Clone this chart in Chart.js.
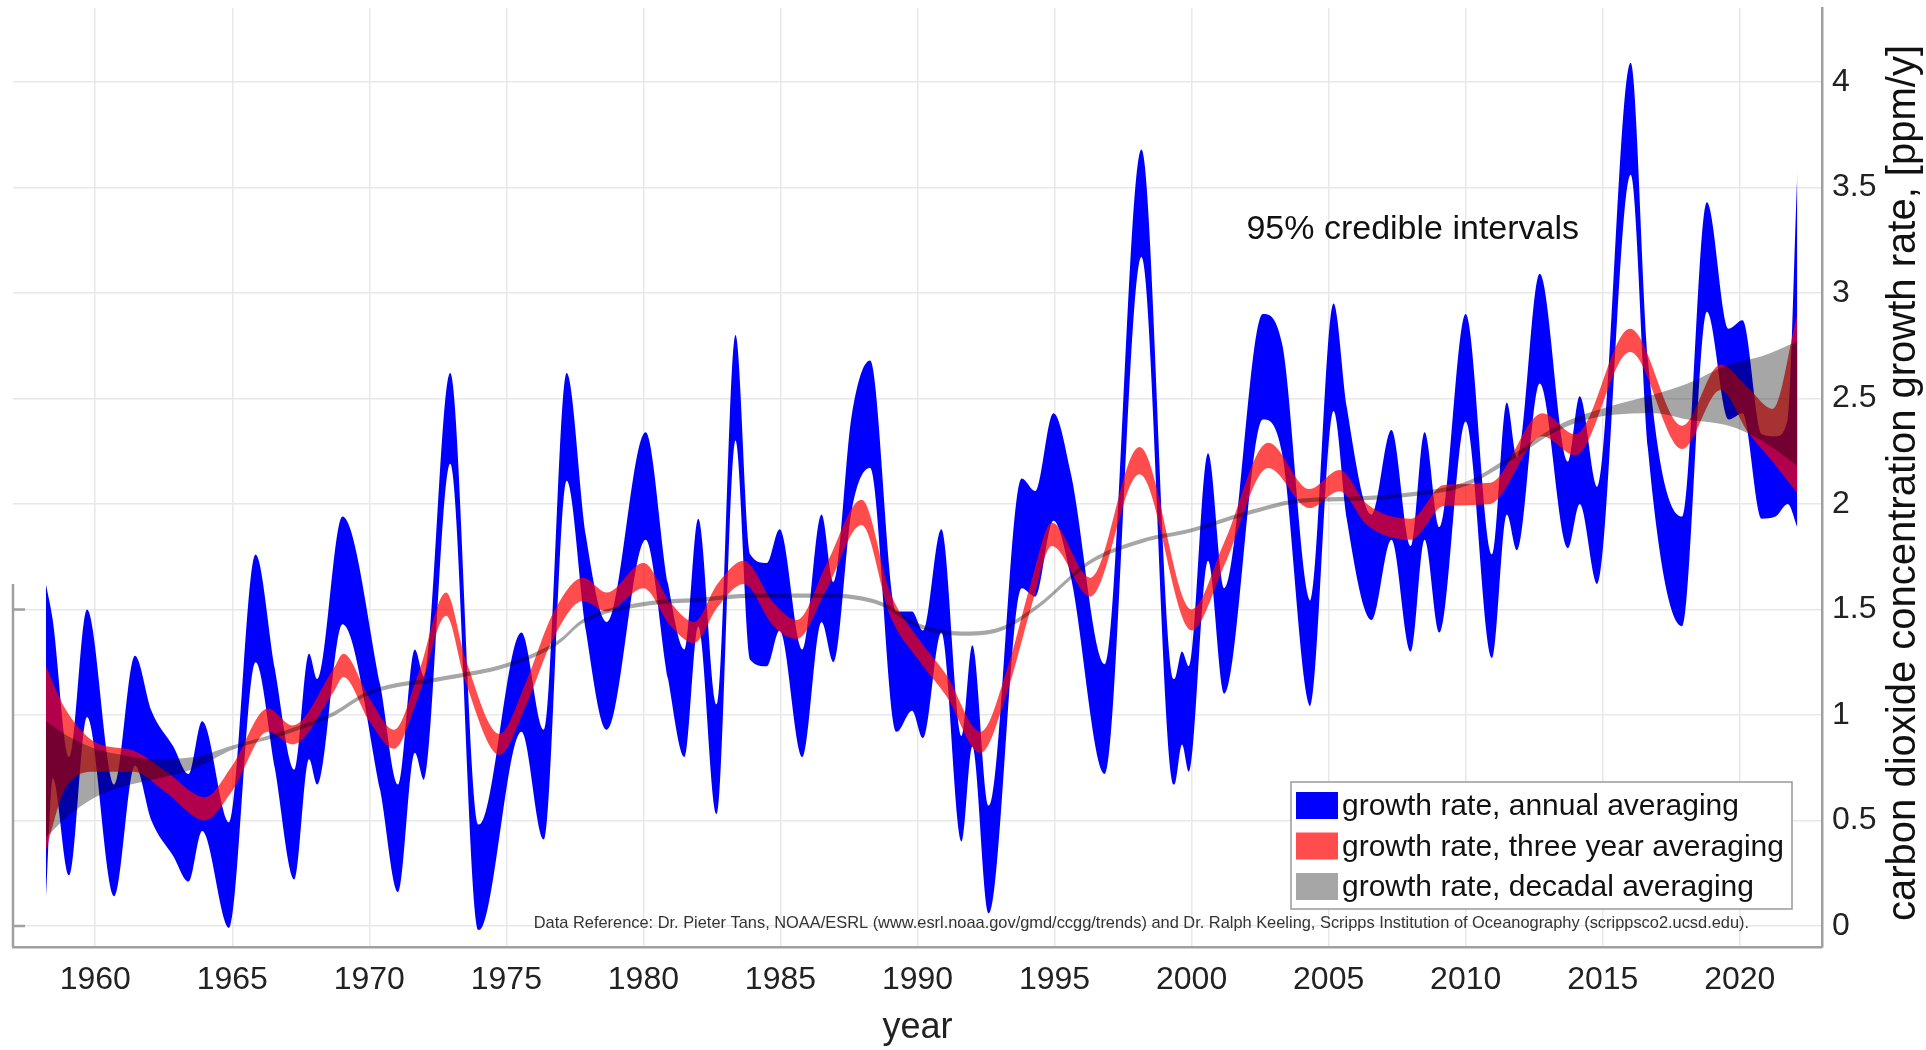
<!DOCTYPE html>
<html>
<head>
<meta charset="utf-8">
<title>CO2 growth rate</title>
<script src="https://cdn.jsdelivr.net/npm/chart.js"></script>
<style>
  html, body { margin: 0; padding: 0; background: #fff; }
  canvas { display: block; }
</style>
</head>
<body>
<canvas id="myChart" width="1926" height="1050"></canvas>
<script>
// annual averaging, 95% band (ppm/y)
const blueYears = [1958.2, 1958.45, 1959.05, 1959.7, 1960.7, 1961.45, 1962.05, 1962.85, 1963.4, 1963.9,
    1964.9, 1965.85, 1966.55, 1967.27, 1967.8, 1968.1, 1969.02, 1970.4, 1971.05, 1971.66,
    1972.0, 1972.95, 1974.0, 1975.55, 1976.37, 1977.2, 1977.9, 1978.66, 1980.08, 1980.9,
    1981.5, 1982.0, 1982.67, 1983.36, 1983.9, 1984.5, 1984.97, 1985.8, 1986.5, 1986.93,
    1987.6, 1988.27, 1989.24, 1989.8, 1990.2, 1990.87, 1991.6, 1992.0, 1992.6, 1993.8,
    1994.3, 1994.96, 1995.6, 1996.83, 1998.17, 1999.37, 1999.65, 1999.9, 2000.6, 2001.2,
    2002.6, 2003.3, 2004.34, 2005.18, 2005.66, 2006.57, 2007.29, 2008.0, 2008.5, 2009.04,
    2010.0, 2010.96, 2011.5, 2011.87, 2012.7, 2013.73, 2014.16, 2014.8, 2016.02, 2016.65,
    2017.9, 2018.8, 2019.6, 2020.1, 2020.8, 2021.3, 2021.75, 2022.1];
const blueHigh = [1.62, 1.45, 0.80, 1.50, 0.67, 1.28, 1.02, 0.85, 0.72, 0.97,
    0.49, 1.76, 1.22, 0.74, 1.29, 1.17, 1.94, 1.14, 0.67, 1.31,
    1.18, 2.62, 0.48, 1.39, 0.93, 2.62, 1.85, 1.44, 2.34, 1.62,
    1.31, 1.93, 1.05, 2.80, 1.76, 1.72, 1.88, 1.31, 1.95, 1.63,
    2.42, 2.68, 1.49, 1.49, 1.40, 1.88, 0.90, 1.33, 0.57, 2.12,
    2.06, 2.43, 2.14, 1.24, 3.68, 1.17, 1.30, 1.23, 2.24, 1.60,
    2.90, 2.76, 1.54, 2.95, 2.46, 1.95, 2.35, 1.80, 2.34, 1.89,
    2.90, 1.76, 2.48, 2.22, 3.09, 2.20, 2.51, 2.08, 4.09, 2.68,
    1.94, 3.43, 2.83, 2.87, 2.33, 2.32, 2.40, 3.57];
const blueLow = [0.12, 0.70, 0.24, 0.99, 0.14, 0.76, 0.50, 0.33, 0.21, 0.45,
    -0.01, 1.25, 0.75, 0.22, 0.79, 0.67, 1.43, 0.64, 0.16, 0.82,
    0.69, 2.19, -0.02, 0.92, 0.41, 2.11, 1.40, 0.93, 1.83, 1.17,
    0.80, 1.42, 0.53, 2.30, 1.26, 1.23, 1.40, 0.80, 1.44, 1.25,
    1.97, 2.17, 0.92, 1.02, 0.89, 1.39, 0.40, 0.85, 0.06, 1.60,
    1.56, 1.92, 1.65, 0.72, 3.17, 0.67, 0.86, 0.73, 1.73, 1.10,
    2.40, 2.24, 1.04, 2.44, 1.93, 1.45, 1.83, 1.30, 1.83, 1.39,
    2.39, 1.27, 1.95, 1.78, 2.57, 1.79, 2.00, 1.62, 3.56, 2.26,
    1.42, 2.91, 2.40, 2.43, 1.93, 1.94, 2.00, 1.89];

// three year averaging
const redYears = [1958.2, 1958.9, 1960.0, 1961.4, 1962.6, 1964.0, 1965.0, 1966.3, 1967.2, 1968.7,
    1969.05, 1970.0, 1970.9, 1971.8, 1972.8, 1973.5, 1974.75, 1975.7, 1976.7, 1977.8,
    1978.66, 1980.0, 1981.0, 1981.85, 1982.7, 1983.66, 1984.75, 1985.6, 1986.7, 1987.96,
    1989.0, 1990.1, 1991.05, 1992.3, 1993.3, 1994.15, 1994.9, 1996.3, 1998.1, 2000.0,
    2001.2, 2002.8, 2004.3, 2005.4, 2006.4, 2008.0, 2009.2, 2010.9, 2012.8, 2014.0,
    2016.0, 2017.9, 2019.3, 2020.3, 2021.2, 2022.1];
const redHigh = [1.23, 1.03, 0.87, 0.83, 0.73, 0.61, 0.76, 1.03, 0.95, 1.22,
    1.29, 1.08, 0.93, 1.20, 1.58, 1.27, 0.91, 1.15, 1.48, 1.65,
    1.58, 1.72, 1.53, 1.44, 1.62, 1.73, 1.53, 1.45, 1.72, 2.02,
    1.58, 1.35, 1.19, 0.92, 1.23, 1.63, 1.91, 1.65, 2.27, 1.50,
    1.82, 2.29, 2.07, 2.16, 2.00, 1.93, 2.09, 2.10, 2.43, 2.33,
    2.83, 2.37, 2.66, 2.55, 2.45, 2.90];
const redLow = [0.36, 0.65, 0.73, 0.73, 0.63, 0.50, 0.64, 0.92, 0.86, 1.11,
    1.18, 0.97, 0.84, 1.09, 1.47, 1.16, 0.81, 1.04, 1.36, 1.54,
    1.49, 1.60, 1.42, 1.34, 1.51, 1.62, 1.42, 1.36, 1.60, 1.90,
    1.47, 1.25, 1.09, 0.82, 1.12, 1.51, 1.80, 1.56, 2.14, 1.40,
    1.71, 2.17, 1.98, 2.06, 1.90, 1.83, 1.99, 2.00, 2.32, 2.23,
    2.72, 2.26, 2.54, 2.34, 2.20, 2.05];

// decadal averaging
const grayYears = [1958.2, 1959.0, 1960.0, 1961.0, 1962.0, 1963.6, 1965.0, 1966.9, 1968.7, 1970.0,
    1972.8, 1975.0, 1976.9, 1977.8, 1980.0, 1982.0, 1984.0, 1986.7, 1988.7, 1990.0,
    1991.6, 1993.0, 1994.4, 1996.3, 1998.2, 2000.0, 2002.0, 2004.0, 2006.0, 2008.0,
    2010.0, 2011.6, 2013.4, 2015.2, 2016.9, 2018.1, 2019.6, 2020.8, 2022.1];
const grayHigh = [0.97, 0.90, 0.84, 0.81, 0.79, 0.80, 0.855, 0.925, 1.015, 1.115,
    1.185, 1.245, 1.355, 1.455, 1.535, 1.555, 1.575, 1.575, 1.535, 1.435,
    1.395, 1.415, 1.525, 1.735, 1.835, 1.885, 1.965, 2.025, 2.035, 2.055,
    2.105, 2.225, 2.375, 2.46, 2.52, 2.57, 2.66, 2.70, 2.77];
const grayLow = [0.42, 0.52, 0.61, 0.66, 0.69, 0.745, 0.835, 0.905, 0.995, 1.095,
    1.165, 1.225, 1.335, 1.435, 1.515, 1.535, 1.555, 1.555, 1.515, 1.415,
    1.375, 1.395, 1.505, 1.715, 1.815, 1.865, 1.945, 2.005, 2.015, 2.035,
    2.085, 2.20, 2.35, 2.42, 2.43, 2.40, 2.37, 2.30, 2.18];

const xTicks = [1960, 1965, 1970, 1975, 1980, 1985, 1990, 1995, 2000, 2005, 2010, 2015, 2020];
const yTicks = [0, 0.5, 1, 1.5, 2, 2.5, 3, 3.5, 4];

const seriesLabels = ['growth rate, annual averaging', 'growth rate, three year averaging', 'growth rate, decadal averaging'];
const seriesColors = ['#0000ff', 'rgba(255, 0, 0, 0.7)', 'rgba(0, 0, 0, 0.35)'];

const FONT = "'Liberation Sans', Arial, Helvetica, sans-serif";

function pts(xs, ys) {
    return xs.map(function (x, i) { return { x: x, y: ys[i] }; });
}

function band(i, xs, hi, lo) {
    return [
        { label: seriesLabels[i], data: pts(xs, hi), fill: '+1', backgroundColor: seriesColors[i], order: 3 - i },
        { label: '_low' + i, data: pts(xs, lo), fill: false, order: 3 - i }
    ];
}

// no extra space for edge labels, the plot box is fixed
function noPadding(axis) {
    axis.paddingTop = 0;
    axis.paddingBottom = 0;
    axis.paddingLeft = 0;
    axis.paddingRight = 0;
}

// texts, axis title and legend on top of the bands
const extras = {
    id: 'extras',
    afterDatasetsDraw(chart) {
        const ctx = chart.ctx;
        const a = chart.chartArea;
        const x = chart.scales.x, y = chart.scales.y;
        ctx.save();

        // piece of the left frame
        ctx.strokeStyle = '#a0a0a0';
        ctx.lineWidth = 2.5;
        ctx.beginPath();
        ctx.moveTo(a.left, y.getPixelForValue(1.62));
        ctx.lineTo(a.left, a.bottom);
        ctx.moveTo(a.left, y.getPixelForValue(1.5));
        ctx.lineTo(a.left + 12, y.getPixelForValue(1.5));
        ctx.moveTo(a.left, y.getPixelForValue(0));
        ctx.lineTo(a.left + 12, y.getPixelForValue(0));
        ctx.stroke();

        ctx.fillStyle = '#111';
        ctx.textAlign = 'left';
        ctx.textBaseline = 'middle';
        ctx.font = '34px ' + FONT;
        ctx.fillText('95% credible intervals', x.getPixelForValue(2002.0), y.getPixelForValue(3.30));

        ctx.fillStyle = '#333';
        ctx.font = '16.4px ' + FONT;
        ctx.fillText('Data Reference: Dr. Pieter Tans, NOAA/ESRL (www.esrl.noaa.gov/gmd/ccgg/trends) and Dr. Ralph Keeling, Scripps Institution of Oceanography (scrippsco2.ucsd.edu).',
            x.getPixelForValue(1976.0), y.getPixelForValue(0.01));

        // legend box
        const w = 501, h = 127;
        const left = a.right - 30 - w, top = a.bottom - 165;
        ctx.fillStyle = '#fff';
        ctx.fillRect(left, top, w, h);
        ctx.strokeStyle = '#999';
        ctx.lineWidth = 1.5;
        ctx.strokeRect(left, top, w, h);
        ctx.font = '30px ' + FONT;
        seriesLabels.forEach(function (lab, i) {
            const ry = top + 10 + i * 40.5;
            ctx.fillStyle = seriesColors[i];
            ctx.fillRect(left + 5, ry, 42, 27);
            ctx.fillStyle = '#111';
            ctx.fillText(lab, left + 51, ry + 15);
        });

        // y axis title, reads bottom to top
        ctx.translate(1904, 483);
        ctx.rotate(-Math.PI / 2);
        ctx.textAlign = 'center';
        ctx.font = '40px ' + FONT;
        ctx.fillStyle = '#111';
        ctx.fillText('carbon dioxide concentration growth rate, [ppm/y]', 0, 0);
        ctx.restore();
    }
};

const myChart = new Chart(
    document.getElementById('myChart'),
    {
        type: 'line',
        data: {
            datasets: [].concat(
                band(0, blueYears, blueHigh, blueLow),
                band(1, redYears, redHigh, redLow),
                band(2, grayYears, grayHigh, grayLow)
            )
        },
        options: {
            responsive: false,
            animation: false,
            devicePixelRatio: 1,
            layout: { padding: { left: 13, top: 8, right: 0, bottom: 0 } },
            elements: {
                line: { borderWidth: 0, borderColor: 'rgba(0,0,0,0)', cubicInterpolationMode: 'monotone' },
                point: { radius: 0 }
            },
            plugins: {
                legend: { display: false },
                tooltip: { enabled: false }
            },
            scales: {
                x: {
                    type: 'linear',
                    min: 1957,
                    max: 2023,
                    afterBuildTicks: function (axis) { axis.ticks = xTicks.map(function (v) { return { value: v }; }); },
                    afterFit: function (axis) { axis.height = 103; noPadding(axis); },
                    grid: { color: '#e8e8e8', lineWidth: 1.5, drawTicks: false },
                    border: { color: '#a0a0a0', width: 2.5 },
                    ticks: {
                        font: { family: FONT, size: 32 },
                        color: '#222',
                        padding: 14,
                        maxRotation: 0,
                        autoSkip: false,
                        callback: function (v) { return String(v); }
                    },
                    title: { display: true, text: 'year', font: { family: FONT, size: 36 }, color: '#222', padding: 0 }
                },
                y: {
                    position: 'right',
                    min: -0.1,
                    max: 4.35,
                    afterBuildTicks: function (axis) { axis.ticks = yTicks.map(function (v) { return { value: v }; }); },
                    afterFit: function (axis) { axis.width = 104; noPadding(axis); },
                    grid: { color: '#e8e8e8', lineWidth: 1.5, drawTicks: false },
                    border: { color: '#a0a0a0', width: 2.5 },
                    ticks: {
                        font: { family: FONT, size: 32 },
                        color: '#222',
                        padding: 10,
                        callback: function (v) { return String(v); }
                    }
                }
            }
        },
        plugins: [extras]
    }
);
</script>
</body>
</html>
